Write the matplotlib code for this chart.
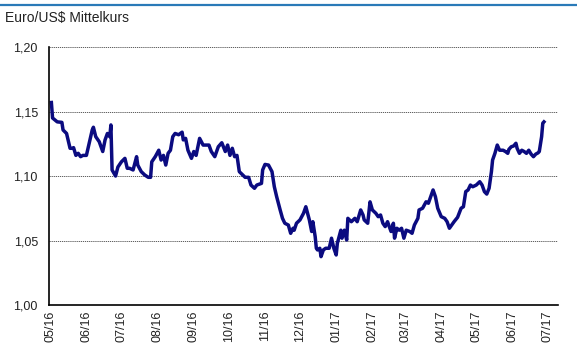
import matplotlib
matplotlib.use("Agg")
import matplotlib.pyplot as plt
import matplotlib.dates as mdates
from matplotlib.lines import Line2D
from matplotlib.ticker import FuncFormatter
import pandas as pd

# Euro/US$ reference rate.
# days = calendar days after 2016-05-01
start = "2016-05-01"
days = [1, 2, 6, 10, 11, 14, 17, 19, 20, 22, 24, 26, 28, 31, 34, 36, 37, 39, 42, 45,
        47, 49, 51, 52, 53, 56, 58, 61, 64, 66, 68, 71, 74, 75, 78, 81, 84, 86, 87, 90,
        93, 95, 97, 99, 101, 103, 105, 107, 110, 113, 114, 116, 118, 121, 123, 125, 128, 131, 134, 136,
        138, 141, 144, 147, 150, 152, 154, 156, 158, 160, 162, 167, 170, 172, 175, 177, 181, 182, 184, 187,
        190, 192, 194, 197, 199, 201, 204, 206, 208, 209, 211, 214, 217, 219, 222, 224, 225, 227, 228, 229,
        231, 232, 234, 236, 239, 241, 243, 245, 246, 249, 250, 252, 254, 255, 258, 261, 263, 266, 268, 269,
        272, 274, 276, 279, 281, 283, 285, 287, 289, 292, 294, 295, 297, 299, 301, 303, 305, 308, 310, 312,
        315, 316, 319, 322, 324, 326, 328, 330, 332, 335, 338, 340, 342, 344, 346, 349, 352, 354, 356, 358,
        360, 362, 365, 368, 370, 372, 374, 376, 378, 379, 381, 383, 385, 388, 390, 392, 393, 395, 397, 399,
        400, 402, 404, 406, 408, 410, 412, 414, 416, 418, 419, 421, 422, 423]
rate = [1.157, 1.145, 1.142, 1.1416, 1.1357, 1.133, 1.1215, 1.1215, 1.122, 1.116, 1.1176, 1.115, 1.116, 1.116, 1.128, 1.1357, 1.1378, 1.1305, 1.1266, 1.119,
        1.128, 1.133, 1.1305, 1.1396, 1.1047, 1.100, 1.107, 1.111, 1.1137, 1.106, 1.106, 1.1047, 1.115, 1.1085, 1.1034, 1.1008, 1.099, 1.099, 1.111, 1.115,
        1.120, 1.1124, 1.116, 1.1085, 1.1176, 1.120, 1.1305, 1.133, 1.132, 1.134, 1.128, 1.1292, 1.120, 1.1137, 1.119, 1.116, 1.1292, 1.124, 1.124, 1.124,
        1.119, 1.115, 1.1227, 1.1258, 1.119, 1.124, 1.116, 1.1215, 1.115, 1.116, 1.1034, 1.099, 1.099, 1.093, 1.0905, 1.093, 1.0943, 1.1047, 1.109, 1.1085,
        1.1034, 1.0917, 1.084, 1.0737, 1.0672, 1.0634, 1.062, 1.0556, 1.0595, 1.058, 1.0634, 1.066, 1.0711, 1.0762, 1.066, 1.057, 1.0646, 1.053, 1.044, 1.0427,
        1.044, 1.0375, 1.0427, 1.044, 1.044, 1.0518, 1.044, 1.0388, 1.0479, 1.058, 1.0518, 1.058, 1.0504, 1.0672, 1.0646, 1.0672, 1.0646, 1.0737, 1.0698, 1.066,
        1.0634, 1.080, 1.0737, 1.0711, 1.0685, 1.0698, 1.0634, 1.0608, 1.0646, 1.057, 1.0634, 1.0518, 1.0595, 1.058, 1.0595, 1.0518, 1.058, 1.057, 1.0556, 1.062,
        1.0672, 1.0737, 1.075, 1.080, 1.0789, 1.084, 1.0892, 1.084, 1.075, 1.0685, 1.0672, 1.0646, 1.0595, 1.062, 1.0646, 1.068, 1.075, 1.0762, 1.0879, 1.0892,
        1.093, 1.0917, 1.093, 1.0956, 1.093, 1.0879, 1.086, 1.0905, 1.1034, 1.1124, 1.1176, 1.124, 1.120, 1.120, 1.119, 1.1176, 1.1207, 1.1227, 1.1233, 1.1254,
        1.1215, 1.1176, 1.120, 1.119, 1.1176, 1.120, 1.117, 1.115, 1.117, 1.118, 1.119, 1.1305, 1.141, 1.142]

y_ticks = [1.00, 1.05, 1.10, 1.15, 1.20]
title = "Euro/US\\$ Mittelkurs"

dates = pd.Timestamp(start) + pd.to_timedelta(days, unit="D")

plt.rcParams['font.family'] = ['Liberation Sans', 'DejaVu Sans']

fig = plt.figure(figsize=(5.77, 3.51), dpi=100)
ax = fig.add_axes([0.085, 0.131, 0.882, 0.735])

ax.plot(dates, rate, color='#0b0b80', linewidth=2.5, solid_joinstyle='round')

ax.set_ylim(1.00, 1.20)
ax.set_yticks(y_ticks)
ax.yaxis.set_major_formatter(FuncFormatter(lambda v, p: f"{v:.2f}".replace('.', ',')))
ax.set_xlim(pd.Timestamp("2016-04-30"), pd.Timestamp("2017-07-10"))
ax.xaxis.set_major_locator(mdates.MonthLocator())
ax.xaxis.set_major_formatter(mdates.DateFormatter('%m/%y'))
plt.setp(ax.get_xticklabels(), rotation=90)

ax.tick_params(axis='both', length=0, labelsize=9, colors='#222222')
ax.tick_params(axis='y', pad=8)
ax.tick_params(axis='x', pad=4)
ax.yaxis.grid(True, color='#444444', linestyle=(0, (1.5, 1)), linewidth=0.6)
ax.set_axisbelow(True)

for side in ['top', 'right']:
    ax.spines[side].set_visible(False)
for side in ['left', 'bottom']:
    ax.spines[side].set_color('black')
    ax.spines[side].set_linewidth(1.2)

# Title and blue rule at the top.
fig.text(0.009, 0.948, title, fontsize=10, va='center', ha='left', color='#222222')
fig.add_artist(Line2D([0, 1], [0.986, 0.986], color='#2a7ab8', linewidth=1.6,
                      transform=fig.transFigure))

fig.savefig("out.png", dpi=100)
